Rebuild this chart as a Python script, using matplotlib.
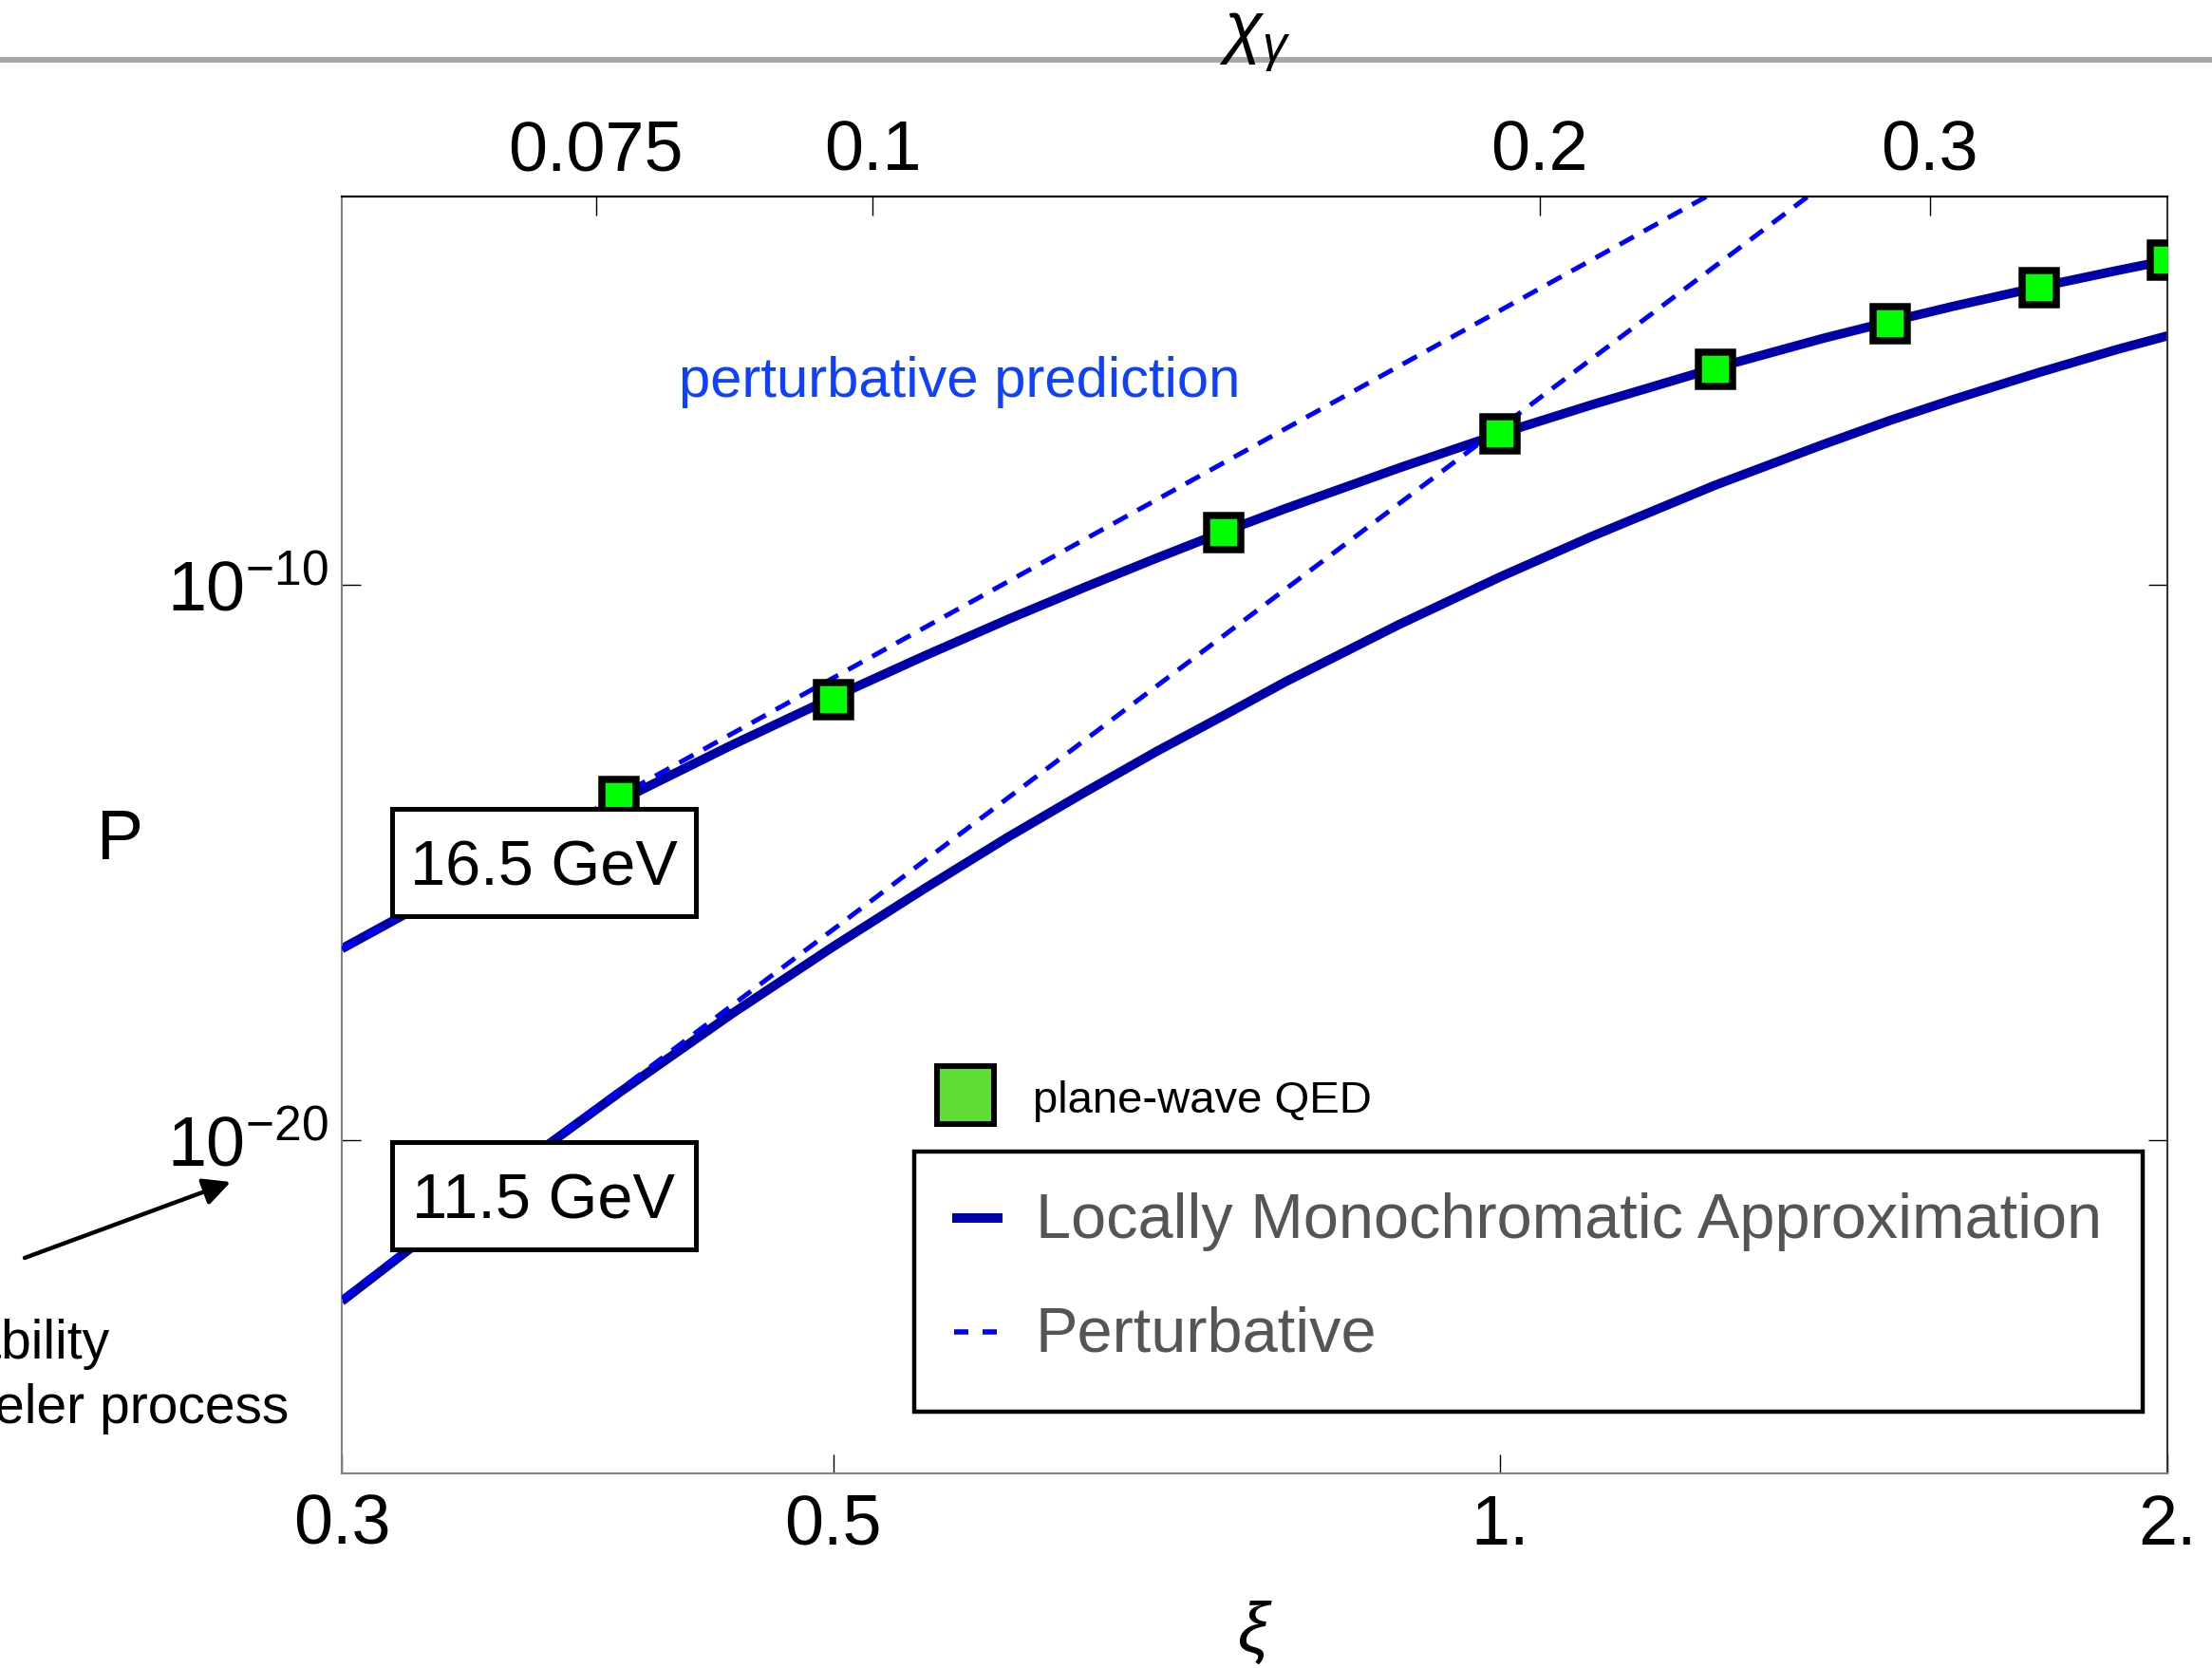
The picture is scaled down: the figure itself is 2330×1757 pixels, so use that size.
import numpy as np
import matplotlib
matplotlib.use("Agg")
import matplotlib.pyplot as plt
from matplotlib.lines import Line2D
from matplotlib.patches import Rectangle, FancyArrowPatch
from matplotlib.ticker import NullLocator

plt.rcParams["font.family"] = ["Liberation Sans", "DejaVu Sans"]
plt.rcParams["mathtext.fontset"] = "custom"
plt.rcParams["mathtext.rm"] = "Liberation Sans"
plt.rcParams["mathtext.it"] = "Liberation Sans:italic"
plt.rcParams["mathtext.bf"] = "Liberation Sans:bold"

# ---- data (log10 of the probability P) ----
xi_lma = [0.30, 0.35, 0.40, 0.45, 0.50, 0.55, 0.60, 0.65, 0.70, 0.75, 0.80, 0.90, 1.00,
          1.10, 1.25, 1.40, 1.50, 1.60, 1.75, 1.90, 2.00]
logp_lma_165 = [-16.55, -15.09, -13.89, -12.88, -12.02, -11.27, -10.61, -10.03, -9.51, -9.04, -8.62, -7.89, -7.27,
                -6.75, -6.09, -5.55, -5.25, -4.98, -4.63, -4.33, -4.15]
logp_lma_115 = [-22.90, -20.84, -19.15, -17.72, -16.51, -15.46, -14.53, -13.72, -12.99, -12.35, -11.74, -10.71, -9.85,
                -9.12, -8.20, -7.46, -7.03, -6.66, -6.17, -5.75, -5.51]

xi_pert_165 = [0.30, 0.50, 1.00, 1.30]
logp_pert_165 = [-16.55, -11.67, -5.05, -2.54]

xi_pert_115 = [0.30, 0.50, 1.00, 1.40]
logp_pert_115 = [-22.85, -16.20, -7.16, -2.78]

xi_pw = [0.40, 0.50, 0.75, 1.00, 1.25, 1.50, 1.75, 2.00]
logp_pw = [-13.80, -12.06, -9.06, -7.28, -6.11, -5.29, -4.65, -4.15]

xi_ticks = [0.3, 0.5, 1.0, 2.0]
xi_ticklabels = ["0.3", "0.5", "1.", "2."]
p_ticks = [1e-20, 1e-10]
p_ticklabels = [r"$10^{-20}$", r"$10^{-10}$"]
chi_ticks = [0.075, 0.1, 0.2, 0.3]
chi_ticklabels = ["0.075", "0.1", "0.2", "0.3"]
chi_per_xi = 0.192

# ---- figure ----
W, H = 2330, 1757
fig = plt.figure(figsize=(W / 100, H / 100), dpi=100)


def px(x, y):
    """pixel position (from top-left) -> figure fraction"""
    return x / W, 1 - y / H


ax_l, ax_r, ax_t, ax_b = 360, 2283, 207, 1552
ax = fig.add_axes([ax_l / W, 1 - ax_b / H, (ax_r - ax_l) / W, (ax_b - ax_t) / H])
ax.set_xscale("log")
ax.set_yscale("log")
ax.set_xlim(0.3, 2.0)
ax.set_ylim(1e-26, 1e-3)

LMA_COLOR = "#0000aa"
PERT_COLOR = "#0000ff"

for ls in (logp_lma_165, logp_lma_115):
    ax.plot(xi_lma, 10.0 ** np.array(ls), color=LMA_COLOR, lw=7.0,
            solid_capstyle="butt", solid_joinstyle="round", zorder=2)
for xs, ls in ((xi_pert_165, logp_pert_165), (xi_pert_115, logp_pert_115)):
    ax.plot(xs, 10.0 ** np.array(ls), color=PERT_COLOR, lw=3.6,
            dashes=(3.4, 2.4), dash_capstyle="butt", zorder=3)
ax.plot(xi_pw, 10.0 ** np.array(logp_pw), ls="none", marker="s", ms=26.3,
        mfc="#00ff00", mec="black", mew=5.4, zorder=4)

# bottom / left ticks
ax.set_xticks(xi_ticks)
ax.set_xticklabels(xi_ticklabels)
ax.xaxis.set_minor_locator(NullLocator())
ax.set_yticks(p_ticks)
ax.set_yticklabels(p_ticklabels)
ax.yaxis.set_minor_locator(NullLocator())
ax.tick_params(axis="x", which="major", direction="in", length=14.4, width=1.0,
               labelsize=53, pad=15, top=False, bottom=True)
ax.tick_params(axis="y", which="major", direction="in", length=14.4, width=1.0,
               labelsize=53, pad=10, left=True, right=True, labelright=False)
for side, col in (("left", "#808080"), ("bottom", "#808080"),
                  ("top", "#000000"), ("right", "#333333")):
    ax.spines[side].set_color(col)
    ax.spines[side].set_linewidth(1.5)

# top axis in chi_gamma
ax2 = ax.twiny()
ax2.set_xscale("log")
ax2.set_xlim(ax.get_xlim())
ax2.set_xticks(np.array(chi_ticks) / chi_per_xi)
ax2.set_xticklabels(chi_ticklabels)
ax2.xaxis.set_minor_locator(NullLocator())
ax2.tick_params(axis="x", which="major", direction="in", length=14.4, width=1.0,
                labelsize=53, pad=9)
for side in ("left", "right", "bottom"):
    ax2.spines[side].set_visible(False)
ax2.spines["top"].set_color("#000000")
ax2.spines["top"].set_linewidth(1.5)

# axis labels
fig.text(*px(126, 905), "P", fontsize=53, ha="center", va="baseline")
fig.text(*px((ax_l + ax_r) / 2, 1720), r"$\xi$", fontsize=53, ha="center", va="center")
fig.add_artist(Line2D([0, 1], [1 - 63 / H] * 2, transform=fig.transFigure,
                      color="#a6a8a6", lw=4.3, zorder=1))
fig.text(*px(1322, 45), r"$\chi_\gamma$", fontsize=53, ha="center", va="center", zorder=3)

# energy labels
for (x0, y0, bl), lab in (((413, 852, 933), "16.5 GeV"), ((413, 1203, 1283), "11.5 GeV")):
    fig.add_artist(Rectangle(px(x0, y0 + 113), 320 / W, 113 / H, transform=fig.transFigure,
                             facecolor="white", edgecolor="black", lw=3.6, zorder=5))
    fig.text(*px(x0 + 160, bl), lab, fontsize=48, ha="center", va="baseline", zorder=6)

fig.text(*px(715, 418), "perturbative prediction", fontsize=43, color="#1040ff",
         ha="left", va="baseline")

# plane-wave QED key
fig.add_artist(Rectangle(px(987, 1184), 60 / W, 61 / H, transform=fig.transFigure,
                         facecolor="#5fdc35", edgecolor="black", lw=4.3, zorder=5))
fig.text(*px(1088, 1172), "plane-wave QED", fontsize=34, ha="left", va="baseline")

# boxed key
fig.add_artist(Rectangle(px(963, 1487), (2257 - 963) / W, (1487 - 1213) / H,
                         transform=fig.transFigure, facecolor="white", edgecolor="black",
                         lw=3.2, zorder=5))
fig.add_artist(Line2D([1003 / W, 1056 / W], [1 - 1283 / H] * 2, transform=fig.transFigure,
                      color=LMA_COLOR, lw=7.2, solid_capstyle="butt", zorder=6))
fig.add_artist(Line2D([1005 / W, 1051 / W], [1 - 1403 / H] * 2, transform=fig.transFigure,
                      color=PERT_COLOR, lw=4.0, dashes=(2.7, 2.7), dash_capstyle="butt", zorder=6))
fig.text(*px(1091, 1304), "Locally Monochromatic Approximation", fontsize=48,
         color="#555555", ha="left", va="baseline", zorder=7)
fig.text(*px(1091, 1423), "Perturbative", fontsize=48,
         color="#555555", ha="left", va="baseline", zorder=7)

# side annotation
fig.text(*px(115, 1431), "Probability", fontsize=41, ha="right", va="baseline")
fig.text(*px(304, 1499), "Breit-Wheeler process", fontsize=41, ha="right", va="baseline")
fig.add_artist(FancyArrowPatch(px(26, 1325), px(243, 1245), transform=fig.transFigure,
                               arrowstyle="-|>", mutation_scale=43, lw=3.2, color="black",
                               shrinkA=0, shrinkB=0))

fig.savefig("out.png", dpi=100, facecolor="white")
